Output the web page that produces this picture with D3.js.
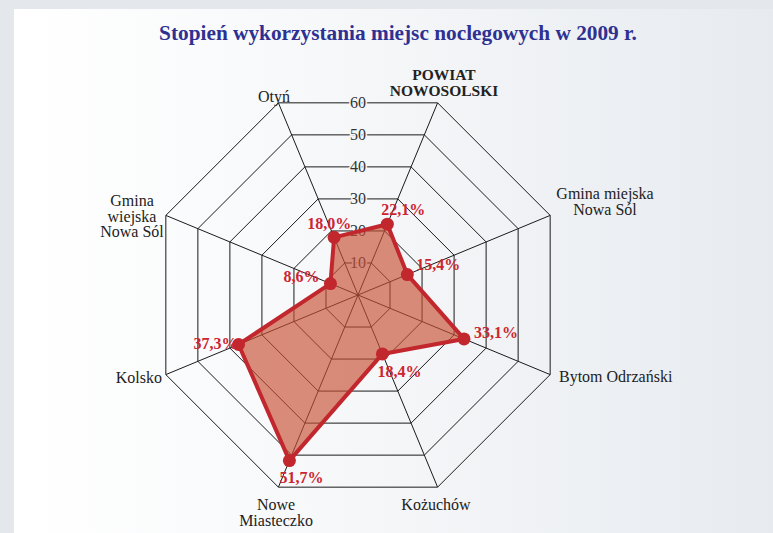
<!DOCTYPE html>
<html>
<head>
<meta charset="utf-8">
<script src="https://cdn.jsdelivr.net/npm/d3@7"></script>
<style>
  html, body { margin: 0; padding: 0; background: #e4e8ec; }
  svg { display: block; font-family: "Liberation Serif", "Times New Roman", serif; }
</style>
</head>
<body>
<svg id="chart"></svg>
<script>
"use strict";

// data
var categories = [
    ["POWIAT", "NOWOSOLSKI"],
    ["Gmina miejska", "Nowa Sól"],
    ["Bytom Odrzański"],
    ["Kożuchów"],
    ["Nowe", "Miasteczko"],
    ["Kolsko"],
    ["Gmina", "wiejska", "Nowa Sól"],
    ["Otyń"]
];
var values = [22.1, 15.4, 33.1, 18.4, 51.7, 37.3, 8.6, 18.0];
var ticks = [10, 20, 30, 40, 50, 60];
var title = "Stopień wykorzystania miejsc noclegowych w 2009 r.";

// layout
var width = 773, height = 533;
var cx = 358, cy = 295, R = 208;

// where the axis names sit (relative to centre), and anchor
var catPos = [
    { x: 86, y: -215, a: "middle", bold: true },
    { x: 247, y: -96, a: "middle" },
    { x: 201, y: 87, a: "start" },
    { x: 78, y: 215, a: "middle" },
    { x: -82, y: 215, a: "middle" },
    { x: -196, y: 88, a: "end" },
    { x: -226, y: -89, a: "middle" },
    { x: -84, y: -193, a: "middle" }
];
// value label offsets from the dot
var labOff = [
    { x: 16, y: -9 }, { x: 31, y: -5 }, { x: 10, y: -1, a: "start" }, { x: 17, y: 23 },
    { x: 12, y: 22 }, { x: -23, y: 5 }, { x: -29, y: -2 }, { x: -5, y: -8 }
];

var svg = d3.select("#chart")
    .attr("width", width)
    .attr("height", height);

var defs = svg.append("defs");
var grad = defs.append("linearGradient").attr("id", "panelGrad")
    .attr("x1", "0%").attr("x2", "100%").attr("y1", "0%").attr("y2", "0%");
grad.append("stop").attr("offset", "0%").attr("stop-color", "#ffffff");
grad.append("stop").attr("offset", "40%").attr("stop-color", "#f7f8fa");
grad.append("stop").attr("offset", "100%").attr("stop-color", "#e7ebef");

svg.append("rect").attr("width", width).attr("height", height).attr("fill", "#e4e8ec");
svg.append("rect").attr("x", 14).attr("y", 9)
    .attr("width", width - 14).attr("height", height - 9)
    .attr("fill", "url(#panelGrad)");

svg.append("text")
    .attr("x", 398).attr("y", 40)
    .attr("text-anchor", "middle")
    .style("font-size", "21.3px")
    .style("font-weight", "bold")
    .style("fill", "#2e3192")
    .text(title);

var n = categories.length;
var angle = d3.scaleLinear().domain([0, n]).range([Math.PI / n, Math.PI / n + 2 * Math.PI]);
var r = d3.scaleLinear().domain([0, 60]).range([0, R]);

var g = svg.append("g").attr("transform", "translate(" + cx + "," + cy + ")");

var ring = d3.lineRadial()
    .angle((d, i) => angle(i))
    .radius(d => r(d))
    .curve(d3.curveLinearClosed);

// grid rings
g.selectAll(".ring")
    .data(ticks)
    .enter()
    .append("path")
    .attr("class", "ring")
    .attr("d", t => ring(d3.range(n).map(() => t)))
    .attr("fill", "none")
    .attr("stroke", "#1a1a1a")
    .attr("stroke-width", 1);

// spokes
g.selectAll(".spoke")
    .data(d3.range(n))
    .enter()
    .append("line")
    .attr("x1", 0).attr("y1", 0)
    .attr("x2", i => r(60) * Math.sin(angle(i)))
    .attr("y2", i => -r(60) * Math.cos(angle(i)))
    .attr("stroke", "#1a1a1a")
    .attr("stroke-width", 1);

// tick labels on top edge
g.selectAll(".tick")
    .data(ticks)
    .enter()
    .append("text")
    .attr("x", 0)
    .attr("y", t => -r(t) * Math.cos(Math.PI / n) + 5.5)
    .attr("text-anchor", "middle")
    .style("font-size", "16px")
    .style("fill", "#333")
    .style("stroke", "#f5f6f8")
    .style("stroke-width", 3)
    .style("paint-order", "stroke")
    .text(t => t);

// data area
g.append("path")
    .attr("d", ring(values))
    .attr("fill", "#c85032")
    .attr("fill-opacity", 0.65)
    .attr("stroke", "#c1272d")
    .attr("stroke-width", 4)
    .attr("stroke-linejoin", "round");

var px = (d, i) => r(d) * Math.sin(angle(i));
var py = (d, i) => -r(d) * Math.cos(angle(i));

g.selectAll(".dot")
    .data(values)
    .enter()
    .append("circle")
    .attr("cx", px)
    .attr("cy", py)
    .attr("r", 6.5)
    .attr("fill", "#c1272d");

g.selectAll(".val")
    .data(values)
    .enter()
    .append("text")
    .attr("x", (d, i) => px(d, i) + labOff[i].x)
    .attr("y", (d, i) => py(d, i) + labOff[i].y)
    .attr("text-anchor", (d, i) => labOff[i].a || "middle")
    .style("font-size", "16px")
    .style("font-weight", "bold")
    .style("fill", "#cc2530")
    .text(d => d3.format(".1f")(d).replace(".", ",") + "%");

// axis names
categories.forEach(function (lines, i) {
    var p = catPos[i];
    var t = g.append("text")
        .attr("text-anchor", p.a)
        .style("font-size", p.bold ? "15.5px" : "16px")
        .style("font-weight", p.bold ? "bold" : "normal")
        .style("fill", "#222");
    lines.forEach(function (s, j) {
        t.append("tspan")
            .attr("x", p.x)
            .attr("y", p.y + j * 15.7)
            .text(s);
    });
});
</script>
</body>
</html>
